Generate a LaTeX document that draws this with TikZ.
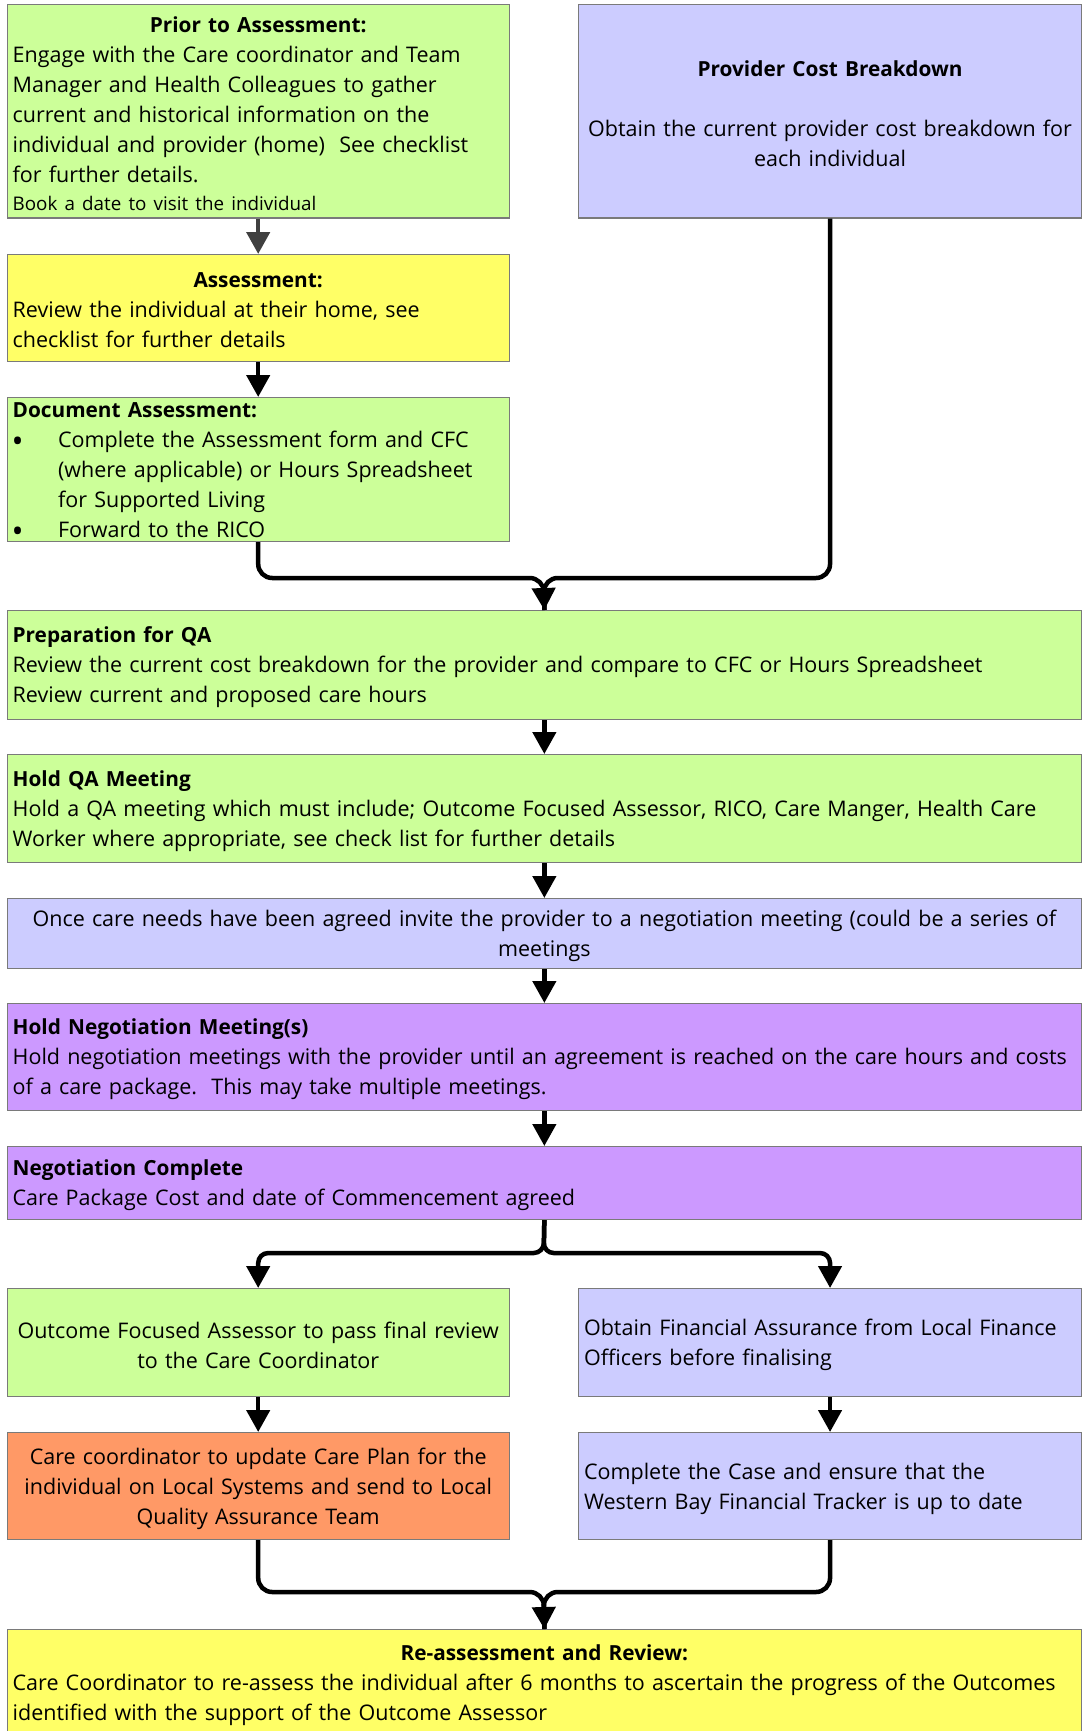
\documentclass[tikz,border=0pt]{standalone}
\usepackage{fontspec}
\setmainfont{Open Sans}
\usetikzlibrary{arrows.meta}
\definecolor{fgreen}{HTML}{CCFF99}
\definecolor{fyellow}{HTML}{FFFF66}
\definecolor{flav}{HTML}{CCCCFF}
\definecolor{fpurple}{HTML}{CC99FF}
\definecolor{forange}{HTML}{FF9966}
\definecolor{boxline}{HTML}{7A7A7A}
\definecolor{darkarrow}{HTML}{404040}
\newcommand{\bodyfont}{\fontsize{21.5}{30}\selectfont}
\newcommand{\smallbody}{\fontsize{18.8}{28}\selectfont}
\newcommand{\ttl}[1]{{\fontsize{20.8}{30}\selectfont\bfseries #1}}
\newcommand{\ctitle}[1]{{\centering\ttl{#1}\par}}
\newcommand{\bigbullet}{\makebox[45.4pt][l]{\hspace{-1pt}\raisebox{-5pt}{\fontsize{32}{30}\selectfont\textbullet}}}
\newcommand{\hang}{\hspace*{45.4pt}}
\tikzset{
  box/.style={draw=boxline, line width=1.1pt, rectangle, anchor=north west,
    inner xsep=5.5pt, inner ysep=0pt, font=\bodyfont, align=left,
    execute at end node={\par\vspace*{-5pt}}},
  leftcol/.style={box, text width=491.1pt},
  rightcol/.style={box, text width=492pt},
  fullrow/.style={box, text width=1063.4pt},
  conn/.style={line width=4.5pt, black},
  tip/.style={-{Triangle[width=23pt,length=22pt]}},
  arr/.style={conn, tip},
  grayarr/.style={arr, darkarrow}
}
\begin{document}
\begin{tikzpicture}[x=1pt,y=-1pt]
\useasboundingbox (0,0) rectangle (1088,1731);

% top row
\node[leftcol, fill=fgreen, minimum height=213pt] (prior) at (6.6,4.4) {%
  \ctitle{Prior to Assessment:}%
  Engage with the Care coordinator and Team\\
  Manager and Health Colleagues to gather\\
  current and historical information on the\\
  individual and provider (home)\ \ See checklist\\
  for further details.\par
  {\smallbody Book a date to visit the individual\par}};
\node[rightcol, fill=flav, minimum height=213pt, align=center] (prov) at (578,4.4) {%
  \ttl{Provider Cost Breakdown}\\[30pt]
  Obtain the current provider cost breakdown for\\
  each individual};

\node[leftcol, fill=fyellow, minimum height=107pt] (assess) at (6.6,254) {%
  \ctitle{Assessment:}%
  Review the individual at their home, see\\
  checklist for further details};

\node[leftcol, fill=fgreen, minimum height=144pt] (doc) at (6.6,397) {%
  \ttl{Document Assessment:}\\
  \bigbullet Complete the Assessment form and CFC\\
  \hang(where applicable) or Hours Spreadsheet\\
  \hang for Supported Living\\
  \bigbullet Forward to the RICO};

% full-width steps
\node[fullrow, fill=fgreen, minimum height=109pt] (prep) at (6.6,610) {%
  \ttl{Preparation for QA}\\
  Review the current cost breakdown for the provider and compare to CFC or Hours Spreadsheet\\
  Review current and proposed care hours};

\node[fullrow, fill=fgreen, minimum height=108pt] (qa) at (6.6,754) {%
  \ttl{Hold QA Meeting}\\
  Hold a QA meeting which must include; Outcome Focused Assessor, RICO, Care Manger, Health Care\\
  Worker where appropriate, see check list for further details};

\node[fullrow, fill=flav, minimum height=70pt, align=center] (once) at (6.6,898) {%
  Once care needs have been agreed invite the provider to a negotiation meeting (could be a series of\\
  meetings};

\node[fullrow, fill=fpurple, minimum height=107pt] (neg) at (6.6,1003) {%
  \ttl{Hold Negotiation Meeting(s)}\\
  Hold negotiation meetings with the provider until an agreement is reached on the care hours and costs\\
  of a care package.\ \ This may take multiple meetings.};

\node[fullrow, fill=fpurple, minimum height=73pt] (nc) at (6.6,1146) {%
  \ttl{Negotiation Complete}\\
  Care Package Cost and date of Commencement agreed};

% two branches
\node[leftcol, fill=fgreen, minimum height=108pt, align=center] (ofa) at (6.6,1288) {%
  Outcome Focused Assessor to pass final review\\
  to the Care Coordinator};
\node[rightcol, fill=flav, minimum height=108pt] (fin) at (578,1288) {%
  Obtain Financial Assurance from Local Finance\\
  Officers before finalising};

\node[leftcol, fill=forange, minimum height=107pt, align=center] (plan) at (6.6,1432) {%
  Care coordinator to update Care Plan for the\\
  individual on Local Systems and send to Local\\
  Quality Assurance Team};
\node[rightcol, fill=flav, minimum height=107pt] (case) at (578,1432) {%
  Complete the Case and ensure that the\\
  Western Bay Financial Tracker is up to date};

\node[fullrow, fill=fyellow, minimum height=106pt] (review) at (6.6,1629) {%
  \ctitle{Re-assessment and Review:}%
  Care Coordinator to re-assess the individual after 6 months to ascertain the progress of the Outcomes\\
  identified with the support of the Outcome Assessor};

% junction points
\coordinate (j1) at (543.7,578);
\coordinate (j1h) at (543.7,590);
\coordinate (j3) at (543.7,1253);
\coordinate (j5) at (543.7,1592);
\coordinate (j5h) at (543.7,1604);

% straight arrows
\draw[grayarr] (prior.south) -- (assess.north);
\draw[arr] (assess.south) -- (doc.north);
\draw[arr] (prep.south) -- (qa.north);
\draw[arr] (qa.south) -- (once.north);
\draw[arr] (once.south) -- (neg.north);
\draw[arr] (neg.south) -- (nc.north);
\draw[arr] (ofa.south) -- (plan.north);
\draw[arr] (fin.south) -- (case.north);

% merge into preparation
\draw[conn, rounded corners=14pt] (doc.south) |- (j1) -- (prep.north);
\draw[conn, rounded corners=14pt] (prov.south) |- (j1) -- (prep.north);
\draw[arr] (j1h) -- (prep.north);

% split after negotiation
\draw[arr, rounded corners=10pt] (nc.south) -- (j3) -| (ofa.north);
\draw[arr, rounded corners=10pt] (nc.south) -- (j3) -| (fin.north);

% merge into review
\draw[conn, rounded corners=14pt] (plan.south) |- (j5) -- (review.north);
\draw[conn, rounded corners=14pt] (case.south) |- (j5) -- (review.north);
\draw[arr] (j5h) -- (review.north);
\end{tikzpicture}
\end{document}
